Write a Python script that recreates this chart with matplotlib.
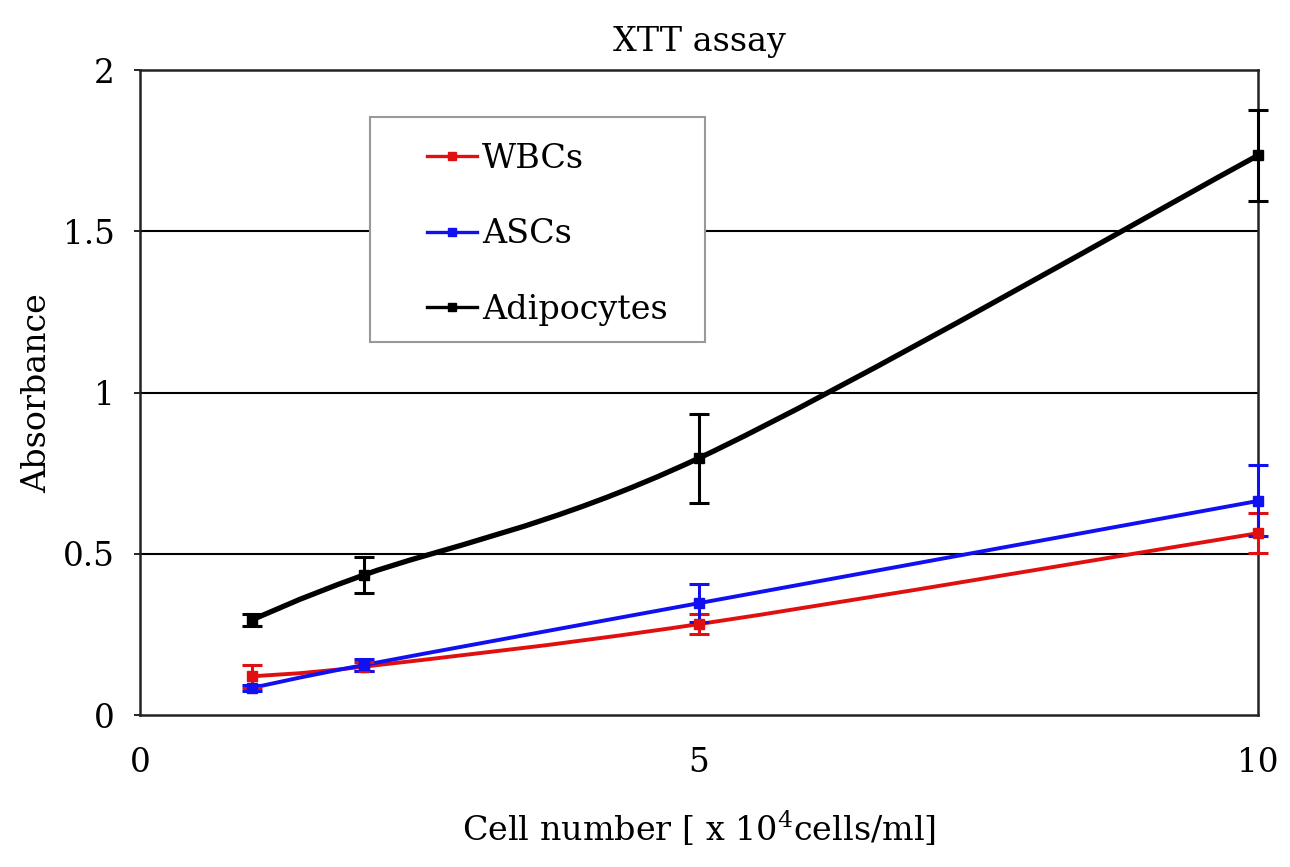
import matplotlib
matplotlib.use("Agg")
import matplotlib.pyplot as plt
from matplotlib.path import Path
from matplotlib.patches import PathPatch, Rectangle
from matplotlib.lines import Line2D

plt.rcParams['font.family'] = ['DejaVu Serif']

# cell number [x 10^4 cells/ml]
cells = [1, 2, 5, 10]

wbc = [0.12, 0.15, 0.282, 0.564]
wbc_err = [0.035, 0.015, 0.03, 0.062]

asc = [0.084, 0.155, 0.347, 0.664]
asc_err = [0.01, 0.02, 0.06, 0.11]

adipo = [0.295, 0.434, 0.797, 1.736]
adipo_err = [0.018, 0.055, 0.138, 0.142]

names = ['WBCs', 'ASCs', 'Adipocytes']
colors = ['#e01010', '#1010f0', '#000000']


def smooth_path(xs, ys):
    # excel style smoothed line: bezier segments through the points
    pts = list(zip(xs, ys))
    verts = [pts[0]]
    codes = [Path.MOVETO]
    n = len(pts)
    for i in range(n - 1):
        p0 = pts[i - 1] if i > 0 else pts[i]
        p1 = pts[i]
        p2 = pts[i + 1]
        p3 = pts[i + 2] if i + 2 < n else pts[i + 1]
        c1 = (p1[0] + (p2[0] - p0[0]) / 6, p1[1] + (p2[1] - p0[1]) / 6)
        c2 = (p2[0] - (p3[0] - p1[0]) / 6, p2[1] - (p3[1] - p1[1]) / 6)
        verts += [c1, c2, p2]
        codes += [Path.CURVE4] * 3
    return Path(verts, codes)


fig = plt.figure(figsize=(12.9, 8.67), dpi=100)
ax = fig.add_axes([0.1085, 0.1753, 0.8667, 0.7437])

for y in [0.5, 1.0, 1.5]:
    ax.axhline(y, color='black', lw=1.5, zorder=1)

series = [(wbc, wbc_err), (asc, asc_err), (adipo, adipo_err)]
widths = [2.8, 2.8, 3.8]
for (vals, errs), col, lw in zip(series, colors, widths):
    ax.add_patch(PathPatch(smooth_path(cells, vals), fill=False, edgecolor=col, lw=lw,
                           zorder=3, clip_on=False))
    ax.errorbar(cells, vals, yerr=errs, fmt='s', color=col, ms=7, elinewidth=2.2,
                capsize=7, capthick=2.2, zorder=4, clip_on=False)

ax.set_xlim(0, 10)
ax.set_ylim(0, 2)
ax.set_xticks([0, 5, 10])
ax.set_yticks([0, 0.5, 1, 1.5, 2])
ax.set_yticklabels(['0', '0.5', '1', '1.5', '2'])
ax.tick_params(axis='x', length=0, pad=23, labelsize=23.5)
ax.tick_params(axis='y', length=4, width=1.2, pad=14, labelsize=23.5)
for s in ax.spines.values():
    s.set_linewidth(1.8)
    s.set_color('#222222')

ax.set_title('XTT assay', fontsize=24, pad=14)
ax.set_ylabel('Absorbance', fontsize=24, labelpad=7)
ax.set_xlabel(r'Cell number [ x 10$^{\mathregular{4}}$cells/ml]', fontsize=24, labelpad=21)

# legend box
ax.add_patch(Rectangle((0.206, 0.578), 0.299, 0.349, transform=ax.transAxes,
                       facecolor='white', edgecolor='#999999', lw=1.5, zorder=5))
handles = [Line2D([], [], color=c, lw=2.4, marker='s', ms=6) for c in colors]
ax.legend(handles, names, loc='upper left', bbox_to_anchor=(0.245, 0.908), frameon=False,
          fontsize=24, handlelength=1.5, handletextpad=0.15, labelspacing=1.3,
          borderaxespad=0).set_zorder(6)

fig.savefig('out.png', dpi=100)
